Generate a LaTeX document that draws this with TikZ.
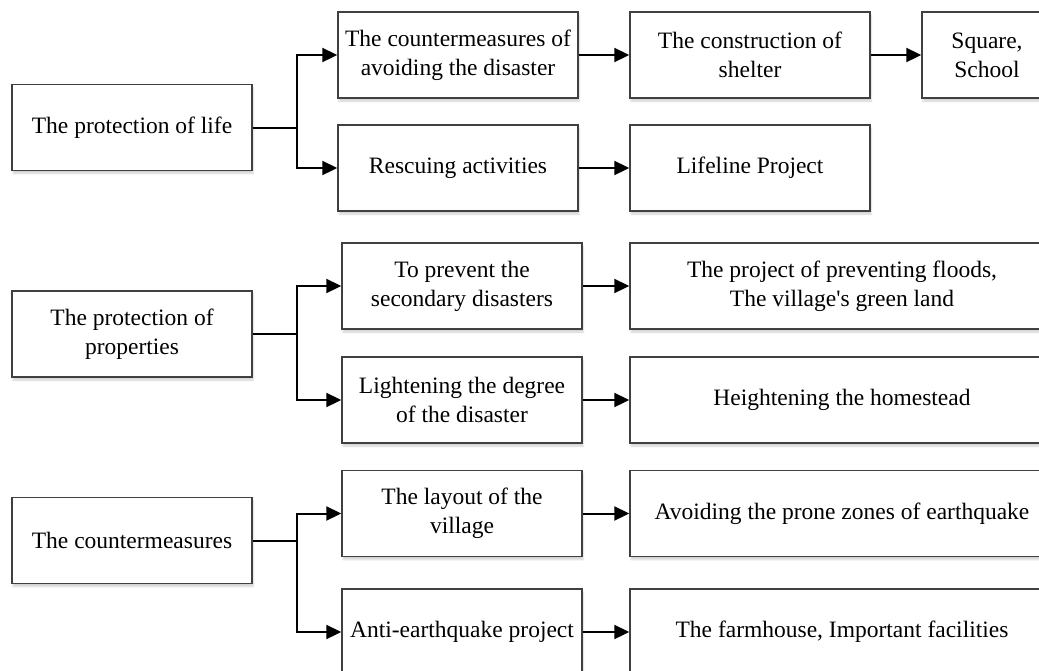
\documentclass[tikz,border=0pt]{standalone}
\usepackage{fontspec}
\setmainfont{Liberation Serif}[Ligatures=TeXOff]
\usetikzlibrary{arrows.meta,shadows.blur}
\begin{document}
\begin{tikzpicture}[x=1pt,y=-1pt,
  box/.style={draw=black!75, line width=1.4pt, fill=white, minimum width=240pt, minimum height=86pt,
    align=center, inner sep=0pt, font=\fontsize{23.5}{29}\selectfont,
    blur shadow={shadow xshift=1pt, shadow yshift=-3pt, shadow opacity=18, shadow blur steps=6}},
  widebox/.style={box, minimum width=424pt},
  narrowbox/.style={box, minimum width=130pt},
  conn/.style={line width=2pt, black},
  arr/.style={conn, -{Triangle[length=15pt,width=14pt]}}]
\useasboundingbox (0,0) rectangle (1039,670);
\clip (0,0) rectangle (1039,670);
% column A
\node[box] (A1) at (132,127.5) {The protection of life};
\node[box] (A2) at (132,334) {The protection of\\properties};
\node[box] (A3) at (132,540.5) {The countermeasures};
% column B
\node[box] (B1) at (458,55) {The countermeasures of\\avoiding the disaster};
\node[box] (B2) at (458,168) {Rescuing activities};
\node[box] (B3) at (462,286) {To prevent the\\secondary disasters};
\node[box] (B4) at (462,400) {Lightening the degree\\of the disaster};
\node[box] (B5) at (462,513.5) {The layout of the\\village};
\node[box] (B6) at (462,632) {Anti-earthquake project};
% column C
\node[box] (C1) at (750,55) {The construction of\\shelter};
\node[box] (C2) at (750,168) {Lifeline Project};
\node[widebox] (C3) at (842,286) {The project of preventing floods,\\The village's green land};
\node[widebox] (C4) at (842,400) {Heightening the homestead};
\node[widebox] (C5) at (842,513.5) {Avoiding the prone zones of earthquake};
\node[widebox] (C6) at (842,632) {The farmhouse, Important facilities};
% column D
\node[narrowbox] (D1) at (987,55) {Square,\\School};
% junctions
\coordinate (j1) at (297,127.5);
\coordinate (j2) at (297,334);
\coordinate (j3) at (297,540.5);
\draw[conn] (A1.east) -- (j1);
\draw[arr] (j1) |- (B1.west);
\draw[arr] (j1) |- (B2.west);
\draw[conn] (A2.east) -- (j2);
\draw[arr] (j2) |- (B3.west);
\draw[arr] (j2) |- (B4.west);
\draw[conn] (A3.east) -- (j3);
\draw[arr] (j3) |- (B5.west);
\draw[arr] (j3) |- (B6.west);
% B to C
\draw[arr] (B1.east) -- (C1.west);
\draw[arr] (B2.east) -- (C2.west);
\draw[arr] (B3.east) -- (C3.west);
\draw[arr] (B4.east) -- (C4.west);
\draw[arr] (B5.east) -- (C5.west);
\draw[arr] (B6.east) -- (C6.west);
\draw[arr] (C1.east) -- (D1.west);
\end{tikzpicture}
\end{document}
